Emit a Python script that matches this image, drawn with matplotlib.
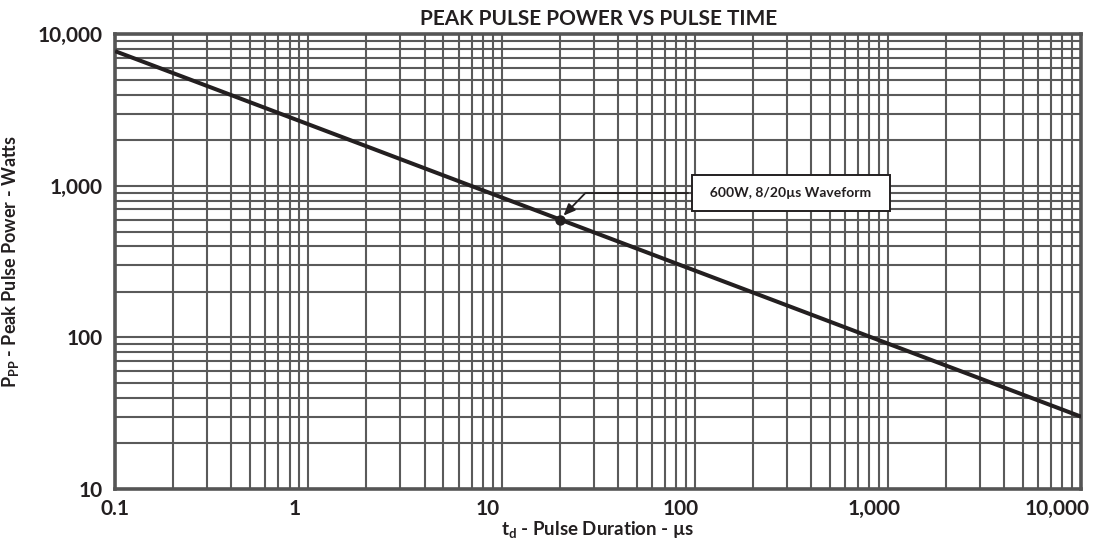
import matplotlib
matplotlib.use("Agg")
import matplotlib.pyplot as plt
import matplotlib.transforms as mtransforms
from matplotlib.ticker import FixedLocator, LogLocator, NullFormatter

plt.rcParams["font.family"] = ["Lato", "DejaVu Sans"]
plt.rcParams["font.weight"] = "bold"
plt.rcParams["mathtext.fontset"] = "custom"
plt.rcParams["mathtext.rm"] = "Lato:bold"
plt.rcParams["mathtext.it"] = "Lato:bold"
plt.rcParams["mathtext.bf"] = "Lato:bold"

# curve (straight line on log-log axes)
pulse_us = [0.1, 10000]
power_w = [7760, 30]

# marked point on the curve
wave_t = [20]
wave_p = [600]
wave_label = "600W, 8/20µs Waveform"

x_ticks = [0.1, 1, 10, 100, 1000, 10000]
x_labels = ["0.1", "1", "10", "100", "1,000", "10,000"]
y_ticks = [10, 100, 1000, 10000]
y_labels = ["10", "100", "1,000", "10,000"]

grid_col = "#5a5a5a"
ink = "#231f20"

fig = plt.figure(figsize=(10.96, 5.47), dpi=100)
ax = fig.add_axes([0.105, 0.106, 0.8815, 0.831])

ax.set_xscale("log")
ax.set_yscale("log")
ax.set_xlim(0.1, 10000)
ax.set_ylim(10, 10000)

ax.xaxis.set_major_locator(FixedLocator(x_ticks))
ax.yaxis.set_major_locator(FixedLocator(y_ticks))
ax.xaxis.set_minor_locator(LogLocator(base=10, subs=range(2, 10), numticks=20))
ax.yaxis.set_minor_locator(LogLocator(base=10, subs=range(2, 10), numticks=20))
ax.xaxis.set_minor_formatter(NullFormatter())
ax.yaxis.set_minor_formatter(NullFormatter())
ax.set_xticklabels(x_labels)
ax.set_yticklabels(y_labels)
ax.tick_params(which="both", length=0, labelsize=15, colors=ink)
ax.tick_params(axis="x", pad=7)
ax.tick_params(axis="y", pad=9)

# the source sheet sets its x labels a little left of the grid lines
labs = ax.get_xticklabels()
for lab in labs[1:]:
    dx = -24 if lab is labs[-1] else -14
    shift = mtransforms.ScaledTranslation(dx / 100, 0, fig.dpi_scale_trans)
    lab.set_transform(lab.get_transform() + shift)

ax.grid(True, which="both", color=grid_col, linewidth=1.5)
ax.set_axisbelow(True)
for s in ax.spines.values():
    s.set_color("#555555")
    s.set_linewidth(2.6)

ax.plot(pulse_us, power_w, color=ink, linewidth=2.9, solid_capstyle="butt", zorder=3)
ax.plot(wave_t, wave_p, "o", color=ink, markersize=6.5, zorder=4)

ax.annotate("  " + wave_label + "  ", xy=(wave_t[0], wave_p[0]), xytext=(314, 898),
            ha="center", va="center", fontsize=10, fontweight="bold", color=ink,
            bbox=dict(boxstyle="square,pad=0.85", fc="white", ec=ink, lw=1.4),
            arrowprops=dict(arrowstyle="-|>,head_length=0.7,head_width=0.3",
                            color=ink, lw=1.3, shrinkB=4,
                            connectionstyle="angle,angleA=0,angleB=46,rad=0"),
            zorder=5)

ax.set_title("PEAK PULSE POWER VS PULSE TIME", fontsize=15, fontweight="bold",
             color=ink, pad=7)
ax.set_xlabel(r"t$_{\mathrm{d}}$ - Pulse Duration - µs", fontsize=13.5,
              fontweight="bold", color=ink, labelpad=0)
ax.set_ylabel(r"P$_{\mathrm{PP}}$ - Peak Pulse Power - Watts", fontsize=13,
              fontweight="bold", color=ink, labelpad=12)

fig.savefig("out.png", dpi=100)
